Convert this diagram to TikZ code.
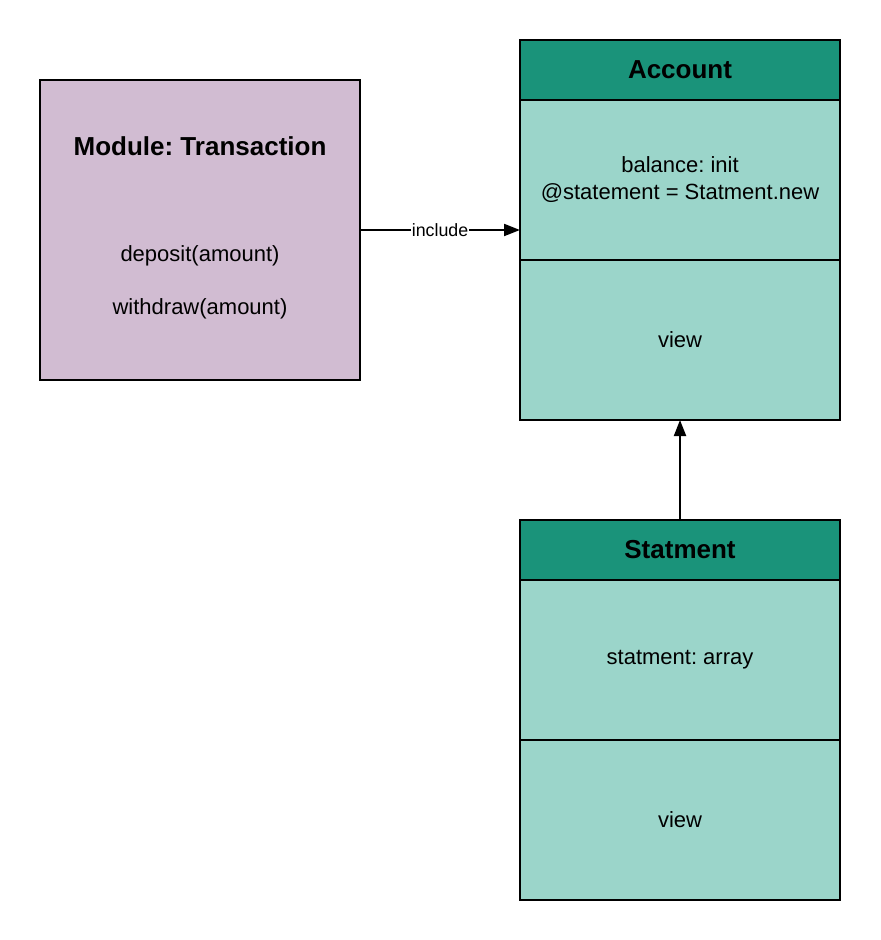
\documentclass[tikz,border=0pt]{standalone}
\usepackage{fontspec}
\setmainfont{Liberation Sans}
\usepackage{tikz}
\usetikzlibrary{positioning, arrows.meta, calc}

\definecolor{modlila}{HTML}{D1BCD2}
\definecolor{headteal}{HTML}{1A937A}
\definecolor{bodyteal}{HTML}{9BD5CA}

\tikzset{
  modbox/.style={draw, line width=1pt, fill=modlila, minimum width=160pt, minimum height=150pt, outer sep=0pt},
  clhead/.style={draw, line width=1pt, fill=headteal, minimum width=160pt, minimum height=30pt, outer sep=0pt, font=\fontsize{13}{15}\selectfont\bfseries},
  clsect/.style={draw, line width=1pt, fill=bodyteal, minimum width=160pt, minimum height=80pt, outer sep=0pt, align=center, font=\fontsize{11}{13.5}\selectfont},
  txt/.style={font=\fontsize{11}{13}\selectfont},
}

\begin{document}
\frenchspacing
\begin{tikzpicture}[x=0.5pt, y=-0.5pt, >={Triangle[length=8pt, width=6pt]}]
			\useasboundingbox[fill=white] (0,0) rectangle (880,940);
			
			% Modulo
			\node[modbox] (mod) at (200,230) {};
			\node[font=\fontsize{13}{15}\selectfont\bfseries] (modtitle) at (200,146) {Module: Transaction};
			\node[txt] (moddep) at (200,256) {deposit(amount)};
			\node[txt] (modwd) at (200,309) {withdraw(amount)};
			
			% Classe Account
			\node[clhead] (acchead) at (680,70) {Account};
			\node[clsect, below=0pt of acchead] (accattr) {balance: init\\@statement = Statment.new};
			\node[clsect, below=0pt of accattr] (accview) {view};
			
			% Classe Statment
			\node[clhead] (sthead) at (680,550) {Statment};
			\node[clsect, below=0pt of sthead] (stattr) {statment: array};
			\node[clsect, below=0pt of stattr] (stview) {view};
			
			% Frecce
			\draw[->, line width=1pt] (mod.east) -- (mod.east -| accattr.west)
				node[midway, fill=white, inner sep=0.5pt, font=\fontsize{8.9}{10}\selectfont] (inclabel) {include};
			\draw[->, line width=1pt] (sthead.north) -- (accview.south);
		\end{tikzpicture}
\end{document}
